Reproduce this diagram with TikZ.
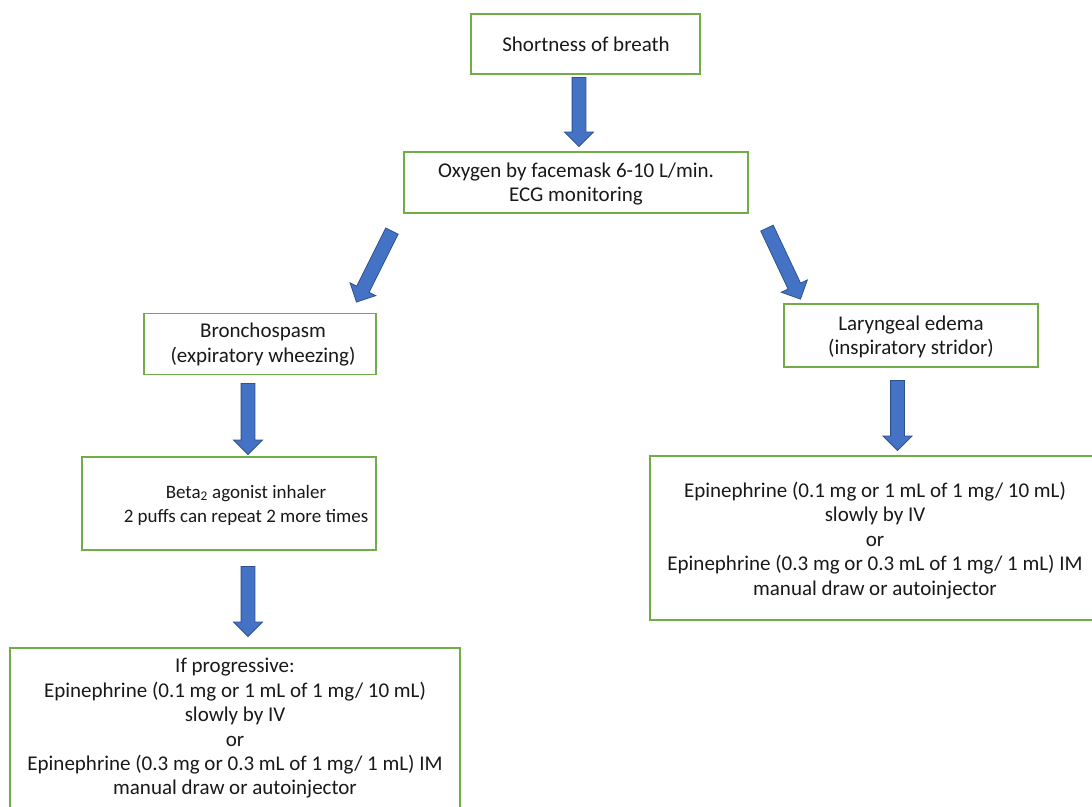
\documentclass[tikz,border=0pt]{standalone}
\usepackage{fontspec}
\setmainfont{Carlito}
\usetikzlibrary{shapes.arrows,calc}
\definecolor{boxgreen}{HTML}{70AD47}
\definecolor{arrowblue}{HTML}{4472C4}
\definecolor{arrowedge}{HTML}{2F528F}
\tikzset{
  box/.style={draw=boxgreen, line width=1.6pt, inner sep=0pt, outer sep=0pt},
  txt/.style={align=center, inner sep=0pt, font=\fontsize{21}{24.4}\selectfont, text=black!90},
  smalltxt/.style={txt, font=\fontsize{19}{24}\selectfont},
  barrow/.style={single arrow, draw=arrowedge, fill=arrowblue, line width=0.8pt,
    single arrow head extend=7.5pt, single arrow head indent=0pt,
    inner xsep=0pt, inner ysep=6.5pt, outer sep=0pt}
}
\newcommand\blockarr[2]{%
  \path let \p1=($(#2)-(#1)$), \n1={atan2(\y1,\x1)}, \n2={veclen(\x1,\y1)} in
    node[barrow, minimum height=\n2, rotate=\n1] at ($(#1)!0.5!(#2)$) {};}
\begin{document}
\begin{tikzpicture}[x=1pt,y=-1pt]
\useasboundingbox (0,0) rectangle (1092,806);
\fill[white] (0,0) rectangle (1092,806);
\clip (0,0) rectangle (1092,806);
% boxes
\node[box, minimum width=229pt, minimum height=60pt] (b1) at (585.5,44) {};
\node[box, minimum width=344pt, minimum height=61pt] (b2) at (576,182.5) {};
\node[box, minimum width=232pt, minimum height=61pt] (b3) at (260,344) {};
\node[box, minimum width=254pt, minimum height=63pt] (b4) at (911,335.5) {};
\node[box, minimum width=294pt, minimum height=93pt] (b5) at (229,503.5) {};
\node[box, minimum width=450pt, minimum height=164pt] (b6) at (875,538) {};
\node[box, minimum width=450pt, minimum height=161pt] (b7) at (235,728.5) {};
% texts
\node[txt] (t1) at (586,44) {Shortness of breath};
\node[txt] (t2) at (576,184) {Oxygen by facemask 6-10 L/min.\\ECG monitoring};
\node[txt] (t3) at (263,344.5) {Bronchospasm\\(expiratory wheezing)};
\node[txt] (t4) at (911,337) {Laryngeal edema\\(inspiratory stridor)};
\node[smalltxt] (t5) at (246,505) {Beta\textsubscript{2} agonist inhaler\\2 puffs can repeat 2 more times};
\node[txt] (t6) at (875,540.5) {Epinephrine (0.1 mg or 1 mL of 1 mg/ 10 mL)\\slowly by IV\\or\\Epinephrine (0.3 mg or 0.3 mL of 1 mg/ 1 mL) IM\\manual draw or autoinjector};
\node[txt] (t7) at (235,728.5) {If progressive:\\Epinephrine (0.1 mg or 1 mL of 1 mg/ 10 mL)\\slowly by IV\\or\\Epinephrine (0.3 mg or 0.3 mL of 1 mg/ 1 mL) IM\\manual draw or autoinjector};
% arrow end points
\coordinate (a1s) at (579,74);    \coordinate (a1e) at (579,143);
\coordinate (a2s) at (393.5,228); \coordinate (a2e) at (358,299);
\coordinate (a3s) at (765.5,225); \coordinate (a3e) at (799,296);
\coordinate (a4s) at (248,380);   \coordinate (a4e) at (248,451);
\coordinate (a5s) at (897.5,377); \coordinate (a5e) at (897.5,447);
\coordinate (a6s) at (248,563);   \coordinate (a6e) at (248,633);
\blockarr{a1s}{a1e}
\blockarr{a2s}{a2e}
\blockarr{a3s}{a3e}
\blockarr{a4s}{a4e}
\blockarr{a5s}{a5e}
\blockarr{a6s}{a6e}
\end{tikzpicture}
\end{document}
